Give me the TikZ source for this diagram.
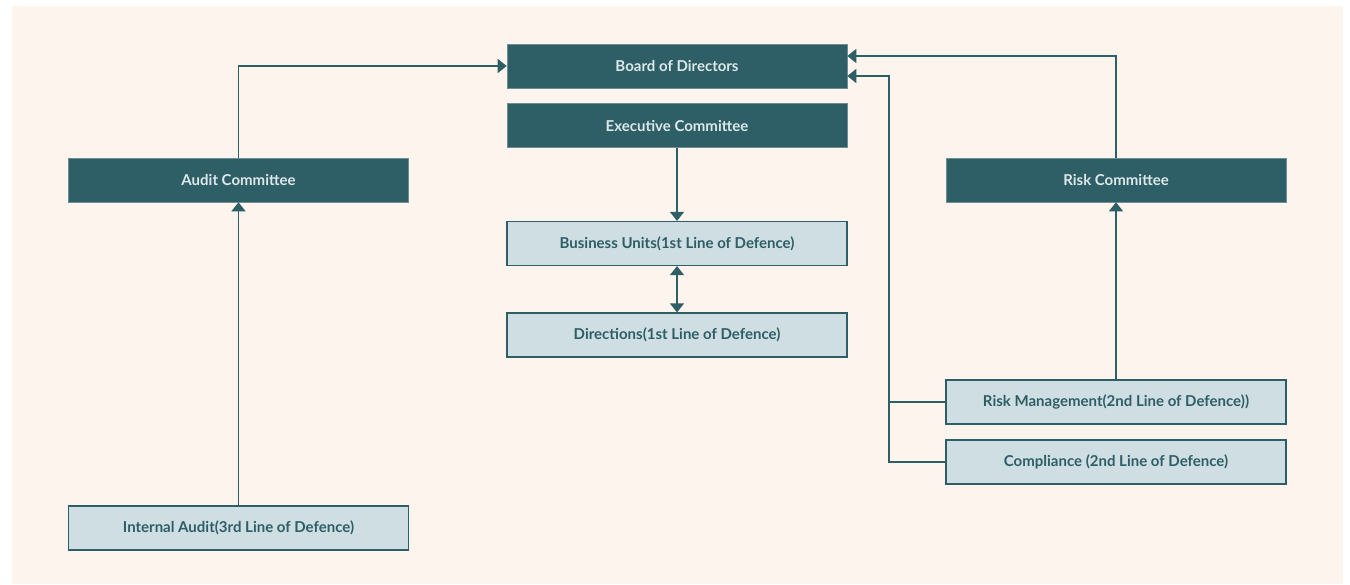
\documentclass[tikz,border=0pt]{standalone}
\usepackage{fontspec}
\setmainfont{Lato}
\usetikzlibrary{arrows.meta}
\definecolor{teal}{HTML}{2E5E66}
\definecolor{pale}{HTML}{CFDEE2}
\definecolor{bg}{HTML}{FDF4EE}
\definecolor{lighttext}{HTML}{DCE8EA}
\tikzset{
  box/.style={minimum width=340pt, minimum height=44pt, inner sep=0pt, font=\fontsize{15}{17}\selectfont\bfseries},
  darkbox/.style={box, fill=teal, draw=teal!70!white, line width=0.6pt, text=lighttext},
  lightbox/.style={box, fill=pale, draw=teal, line width=1.2pt, text=teal},
  conn/.style={draw=teal, line width=1.3pt, -{Triangle[width=14pt,length=9pt]}},
  conn2/.style={draw=teal, line width=1.3pt, {Triangle[width=14pt,length=9pt]}-{Triangle[width=14pt,length=9pt]}},
  plain/.style={draw=teal, line width=1.3pt},
}
\begin{document}
\begin{tikzpicture}[x=1pt,y=-1pt]
\useasboundingbox (0,0) rectangle (1350,585);
\fill[white] (0,0) rectangle (1350,585);
\fill[bg] (12,6) rectangle (1343,584);
\node[darkbox] (board) at (677,66) {Board of Directors};
\node[darkbox] (exec) at (677,125.5) {Executive Committee};
\node[lightbox] (bu) at (677,243.5) {Business Units(1st Line of Defence)};
\node[lightbox] (dir) at (677,335) {Directions(1st Line of Defence)};
\node[darkbox] (audit) at (238.5,180) {Audit Committee};
\node[darkbox] (risk) at (1116,180) {Risk Committee};
\node[lightbox] (rm) at (1116,402) {Risk Management(2nd Line of Defence))};
\node[lightbox] (comp) at (1116,462) {Compliance (2nd Line of Defence)};
\node[lightbox] (ia) at (238.5,528) {Internal Audit(3rd Line of Defence)};
\coordinate (j) at (889,402);
\draw[conn] (audit.north) |- (board.west);
\draw[conn] (ia.north) -- (audit.south);
\draw[conn] (exec.south) -- (bu.north);
\draw[conn2] (bu.south) -- (dir.north);
\draw[conn] (risk.north) |- (board.east |- 0,56);
\draw[conn] (rm.north) -- (risk.south);
\draw[conn] (rm.west) -- (j) |- (board.east |- 0,76);
\draw[plain] (comp.west) -| (j);
\end{tikzpicture}
\end{document}
